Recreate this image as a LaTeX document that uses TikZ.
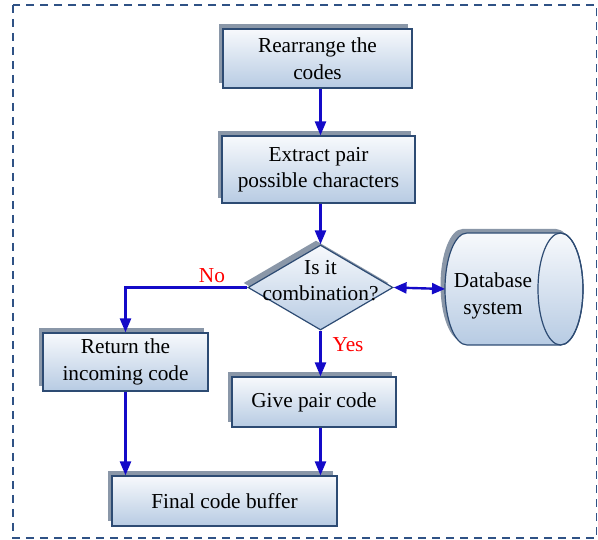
\documentclass[tikz,border=0pt]{standalone}
\usepackage{fontspec}
\setmainfont{Liberation Serif}
\usetikzlibrary{shapes.geometric,arrows.meta,shadows}

\definecolor{edgeblue}{HTML}{2D4B73}
\definecolor{boxtop}{HTML}{F7F9FC}
\definecolor{boxbot}{HTML}{B7CBE3}
\definecolor{shadowgray}{HTML}{8A97A8}
\definecolor{flowblue}{RGB}{20,10,200}
\definecolor{frameblue}{HTML}{2F5285}

\newcommand{\chartfont}{\fontsize{21.3}{26.5}\selectfont}

\tikzset{
  procbox/.style={rectangle, draw=edgeblue, line width=1.2pt,
    top color=boxtop, bottom color=boxbot, inner sep=0pt, align=center,
    font=\chartfont,
    general shadow={fill=shadowgray, shadow xshift=-4.5pt, shadow yshift=5pt}},
  decbox/.style={diamond, draw=edgeblue, line width=1.2pt,
    top color=boxtop, bottom color=boxbot, inner sep=0pt,
    general shadow={fill=shadowgray, shadow xshift=-4.5pt, shadow yshift=4.5pt}},
  flow/.style={draw=flowblue, line width=2.4pt,
    -{Triangle[width=11pt,length=14pt]}},
  twoway/.style={draw=flowblue, line width=2.4pt,
    {Triangle[width=11pt,length=13pt]}-{Triangle[width=11pt,length=13pt]}},
  plaintext/.style={inner sep=0pt, align=center, font=\chartfont},
  answer/.style={inner sep=0pt, font=\chartfont, text=red, anchor=base},
  frame/.style={draw=frameblue, line width=1.8pt, dash pattern=on 8pt off 6pt}
}

\begin{document}
\begin{tikzpicture}[x=1pt,y=-1pt]
  \useasboundingbox (0,0) rectangle (598,540);
  \draw[frame] (13,5) rectangle (596.5,538);

  % process boxes
  \node[procbox, minimum width=189pt, minimum height=59pt] (rea) at (317.5,58.5) {Rearrange the\\codes};
  \node[procbox, minimum width=193pt, minimum height=67pt] (ext) at (318.5,169.5) {Extract pair\\possible characters};
  \node[decbox, minimum width=145pt, minimum height=85pt] (dec) at (320.5,287.5) {};
  \node[plaintext] (declabel) at (320.5,280.5) {Is it\\combination?};
  \node[procbox, minimum width=165pt, minimum height=58pt] (ret) at (125.5,362) {Return the\\incoming code};
  \node[procbox, minimum width=164pt, minimum height=50pt] (give) at (314,402) {Give pair code};
  \node[procbox, minimum width=225pt, minimum height=50pt] (fin) at (224.5,501) {Final code buffer};

  % database drum
  \path[draw=edgeblue, line width=1.2pt, top color=boxtop, bottom color=boxbot,
        general shadow={fill=shadowgray, shadow xshift=-4.5pt, shadow yshift=4pt}]
    (467,233) arc[start angle=270, end angle=90, x radius=22, y radius=56]
    -- (560.5,345) arc[start angle=90, end angle=-90, x radius=22.5, y radius=56]
    -- cycle;
  \draw[edgeblue, line width=1.2pt] (560.5,289) ellipse [x radius=22.5, y radius=56];
  \coordinate (dbwest) at (445,289);
  \node[plaintext] (db) at (493,296) {Database\\system};

  % connectors
  \draw[flow] (rea.south -| dec.north) -- (ext.north -| dec.north);
  \draw[flow] (ext.south -| dec.north) -- (dec.north);
  \draw[twoway] (dec.east) -- (dbwest);
  \draw[flow] (dec.west) -| (ret.north);
  \draw[flow] (dec.south) -- (give.north -| dec.south);
  \draw[flow] (give.south -| dec.south) -- (fin.north -| dec.south);
  \draw[flow] (ret.south) -- (fin.north -| ret.south);

  % branch labels
  \node[answer] (nolabel) at (212,283) {No};
  \node[answer] (yeslabel) at (348,352) {Yes};
\end{tikzpicture}
\end{document}
